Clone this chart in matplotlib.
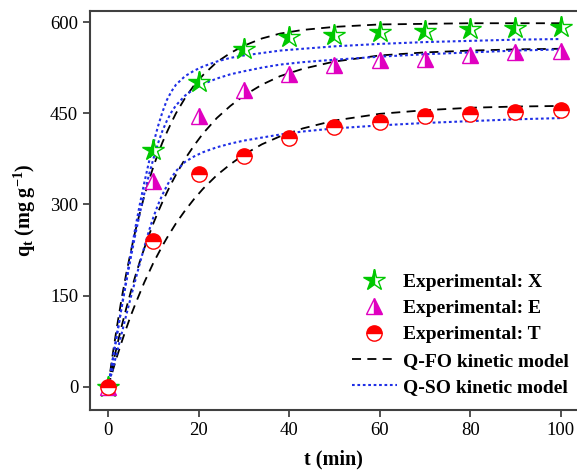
import numpy as np
import matplotlib
matplotlib.use("Agg")
import matplotlib.pyplot as plt

plt.rcParams['font.family'] = ['Liberation Serif', 'DejaVu Serif']
plt.rcParams['mathtext.fontset'] = 'custom'
plt.rcParams['mathtext.rm'] = 'Liberation Serif'
plt.rcParams['mathtext.bf'] = 'Liberation Serif:bold'
plt.rcParams['mathtext.it'] = 'Liberation Serif:italic'

# experimental points
t_exp = [0, 10, 20, 30, 40, 50, 60, 70, 80, 90, 100]
q_x = [0, 390, 502, 555, 575, 578, 583, 585, 588, 590, 592]
q_e = [0, 338, 445, 488, 515, 530, 538, 540, 545, 550, 553]
q_t = [0, 240, 350, 380, 410, 428, 435, 445, 448, 452, 455]

# model curves
t_mod = [0, 1, 2, 3, 4, 5, 6, 7, 8, 9, 10, 11, 12, 13, 14, 15, 17, 19, 21, 24,
         27, 30, 34, 38, 43, 50, 60, 70, 80, 90, 100]
fo_x = [0, 53, 101, 146, 186, 222, 256, 286, 314, 339, 362, 383, 402, 419, 435, 450,
        475, 496, 513, 534, 549, 561, 573, 581, 587, 592, 596, 597, 598, 598, 598]
fo_e = [0, 36, 69, 100, 129, 156, 182, 206, 228, 249, 269, 287, 304, 320, 335, 349,
        375, 397, 417, 442, 462, 479, 497, 511, 523, 535, 545, 550, 553, 555, 556]
fo_t = [0, 26, 51, 74, 96, 117, 136, 154, 172, 188, 204, 218, 232, 245, 257, 269,
        290, 309, 326, 348, 366, 382, 399, 412, 425, 438, 449, 455, 459, 461, 462]
so_x = [0, 44, 88, 132, 176, 219, 261, 300, 336, 369, 400, 428, 452, 472, 486, 497,
        511, 520, 527, 535, 541, 545, 549, 553, 556, 560, 564, 567, 569, 571, 572]
so_e = [0, 44, 88, 131, 172, 212, 250, 285, 318, 348, 375, 400, 421, 438, 452, 463,
        479, 490, 498, 507, 514, 519, 525, 530, 534, 538, 543, 547, 550, 553, 555]
so_t = [0, 29, 58, 88, 118, 147, 175, 203, 230, 256, 279, 299, 316, 331, 344, 355,
        370, 379, 386, 394, 400, 405, 410, 415, 420, 425, 430, 434, 437, 440, 442]

fig = plt.figure(figsize=(5.77, 4.71), dpi=100)
ax = fig.add_axes([0.156, 0.1295, 0.844, 0.847])

green = '#00c800'
magenta = '#e000c0'
red = '#ff0000'
blue = '#1f2fe6'

for i, q in enumerate([fo_x, fo_e, fo_t]):
    ax.plot(t_mod, q, color='black', lw=1.3, dashes=(5, 3.5),
            label='Q-FO kinetic model' if i == 0 else None, zorder=2)
for i, q in enumerate([so_x, so_e, so_t]):
    ax.plot(t_mod, q, color=blue, lw=1.5, dashes=(1.3, 1.3),
            label='Q-SO kinetic model' if i == 0 else None, zorder=2)

ax.plot(t_exp, q_x, ls='none', marker='*', ms=16, fillstyle='left',
        color=green, markerfacecoloralt='white', mec=green, mew=1,
        label='Experimental: X', zorder=3)
ax.plot(t_exp, q_e, ls='none', marker='^', ms=12, fillstyle='right',
        color=magenta, markerfacecoloralt='white', mec=magenta, mew=1,
        label='Experimental: E', zorder=3)
ax.plot(t_exp, q_t, ls='none', marker='o', ms=11, fillstyle='top',
        color=red, markerfacecoloralt='white', mec=red, mew=1,
        label='Experimental: T', zorder=3)

ax.set_xlim(-4, 103.6)
ax.set_ylim(-38, 618)
ax.set_xticks([0, 20, 40, 60, 80, 100])
ax.set_yticks([0, 150, 300, 450, 600])
ax.tick_params(direction='out', length=5, width=1.2, labelsize=13.5, colors='#333333',
               labelcolor='black')
ax.spines['right'].set_visible(False)
for s in ['left', 'bottom', 'top']:
    ax.spines[s].set_linewidth(1.5)
    ax.spines[s].set_color('#404040')

ax.set_xlabel('t (min)', fontsize=14.5, fontweight='bold', labelpad=8)
ax.set_ylabel(r'$\mathbf{q_t}$ $\mathbf{(mg\ g^{-1})}$', fontsize=14.5, labelpad=9)

handles, labels = ax.get_legend_handles_labels()
order = [2, 3, 4, 0, 1]
ax.legend([handles[i] for i in order], [labels[i] for i in order],
          loc='upper left', bbox_to_anchor=(352 / 577, 1 - 273 / 471),
          bbox_transform=fig.transFigure, frameon=False, borderpad=0,
          borderaxespad=0, handlelength=2.3, handletextpad=0.3,
          labelspacing=0.45, numpoints=1,
          prop={'weight': 'bold', 'size': 14})

fig.savefig('out.png', dpi=100)
